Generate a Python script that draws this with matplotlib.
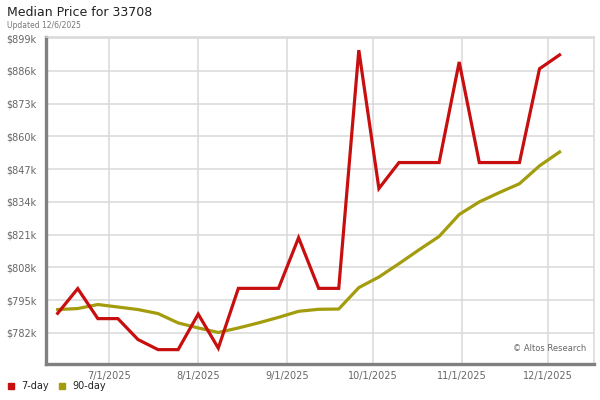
import matplotlib
matplotlib.use("Agg")
import matplotlib.pyplot as plt
import matplotlib.dates as mdates
import numpy as np
import datetime as dt

start = dt.date(2025, 6, 13)
dates = [start + dt.timedelta(days=7 * i) for i in range(26)]

red_7day = [789.8, 799.6, 787.7, 787.7, 779.4, 775.4, 775.4, 789.5, 776.0, 799.7,
            799.7, 799.7, 819.8, 799.7, 799.7, 894.2, 839.3, 849.6, 849.6, 849.6,
            889.5, 849.6, 849.6, 849.6, 886.8, 892.3]
green_90day = [791.3, 791.7, 793.3, 792.3, 791.3, 789.7, 786.0, 784.0, 782.2, 784.0,
               786.0, 788.2, 790.6, 791.4, 791.5, 800.0, 804.2, 809.5, 815.0, 820.3,
               829.0, 834.0, 837.7, 841.2, 848.3, 853.8]

y_ticks = [782, 795, 808, 821, 834, 847, 860, 873, 886, 899]
y_labels = ["$%dk" % v for v in y_ticks]
x_ticks = [dt.date(2025, m, 1) for m in range(7, 13)]
x_labels = ["%d/1/2025" % m for m in range(7, 13)]

RED = "#c80f0f"
OLIVE = "#a39c0c"
GRID = "#d9d9d9"
TXT = "#666666"

fig = plt.figure(figsize=(6, 4), dpi=100)
ax = fig.add_axes([0.077, 0.09, 0.913, 0.8175])

ax.plot(dates, green_90day, color=OLIVE, lw=2.3, solid_joinstyle="round", zorder=3)
ax.plot(dates, red_7day, color=RED, lw=2.3, solid_joinstyle="miter", zorder=4)

ax.set_ylim(769.7, 899.4)
ax.set_xlim(dt.date(2025, 6, 9), dt.date(2025, 12, 17))
ax.set_yticks(y_ticks)
ax.set_yticklabels(y_labels)
ax.set_xticks(x_ticks)
ax.set_xticklabels(x_labels)
ax.grid(True, color=GRID, lw=1.1, zorder=0)
ax.set_axisbelow(True)

ax.tick_params(axis="both", length=0, labelsize=7, labelcolor=TXT)
ax.tick_params(axis="y", pad=7)
ax.tick_params(axis="x", pad=5)

for s in ["top", "right"]:
    ax.spines[s].set_color(GRID)
    ax.spines[s].set_linewidth(1.1)
for s in ["left", "bottom"]:
    ax.spines[s].set_color("#808080")
    ax.spines[s].set_linewidth(2.4)
    ax.spines[s].set_capstyle("projecting")

ax.text(0.985, 0.035, "\u00a9 Altos Research", transform=ax.transAxes,
        ha="right", va="bottom", fontsize=6, color=TXT)

fig.text(7 / 600, 1 - 12 / 400, "Median Price for 33708", fontsize=9, color="#222222",
         ha="left", va="center")
fig.text(7 / 600, 1 - 25 / 400, "Updated 12/6/2025", fontsize=5.5, color="#777777",
         ha="left", va="center")

# legend
fig.patches.append(plt.Rectangle((8 / 600, 1 - 389 / 400), 6 / 600, 6 / 400,
                                 transform=fig.transFigure, color=RED, figure=fig))
fig.text(21 / 600, 1 - 386 / 400, "7-day", fontsize=7, color="#222222", ha="left", va="center")
fig.patches.append(plt.Rectangle((59 / 600, 1 - 389 / 400), 6 / 600, 6 / 400,
                                 transform=fig.transFigure, color=OLIVE, figure=fig))
fig.text(72 / 600, 1 - 386 / 400, "90-day", fontsize=7, color="#222222", ha="left", va="center")

fig.savefig("out.png", dpi=100)
